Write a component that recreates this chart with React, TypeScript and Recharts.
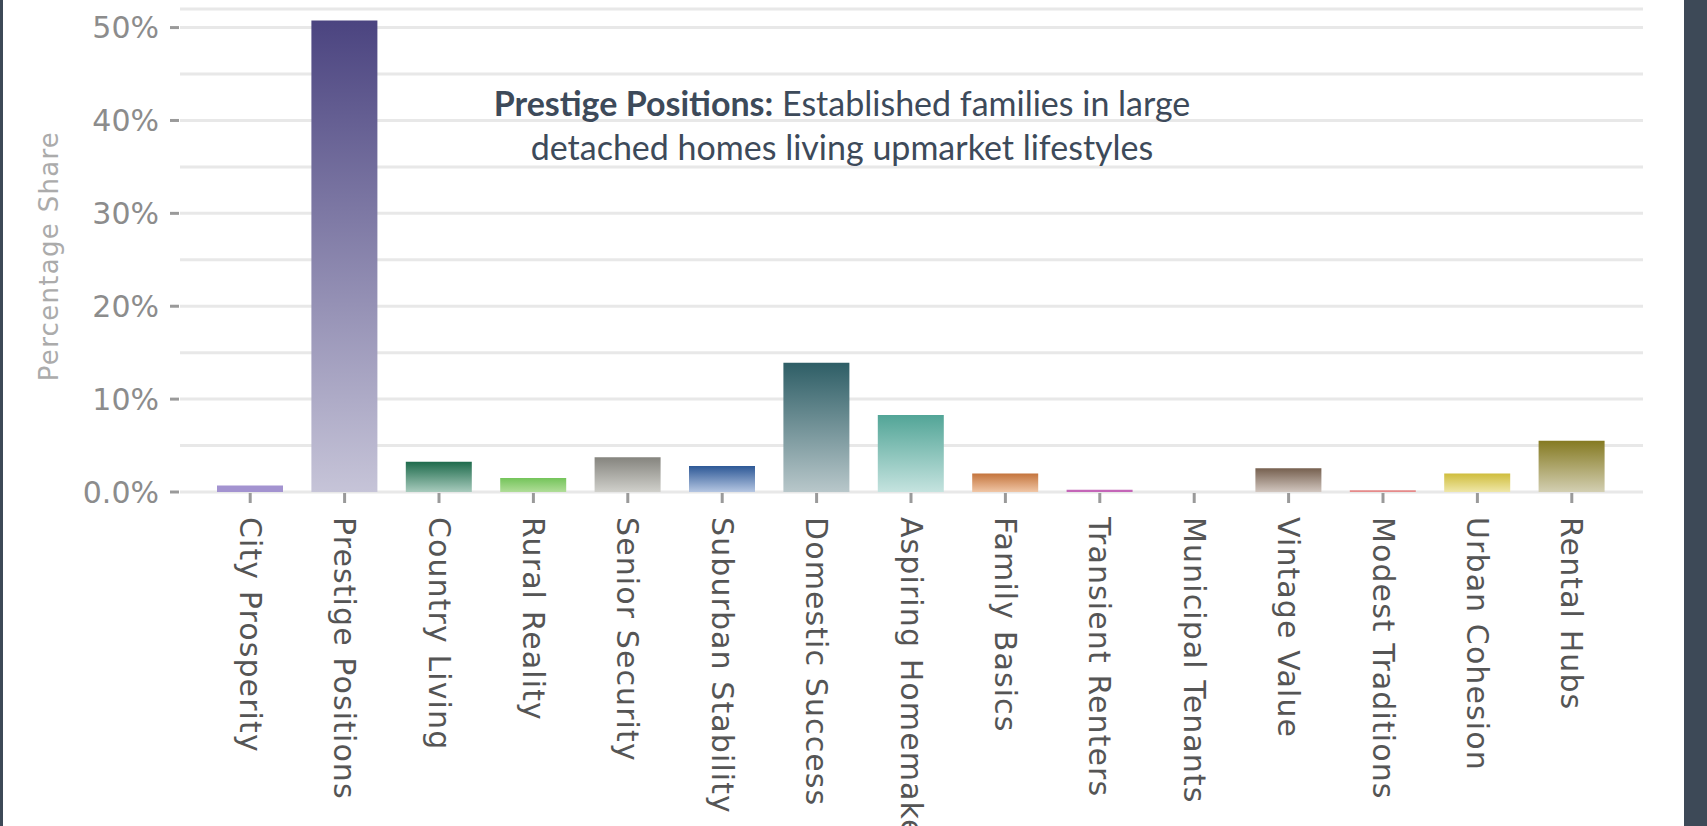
import React from 'react';
import { BarChart, Bar, XAxis, YAxis, CartesianGrid, Cell } from 'recharts';

const categories = [
  'City Prosperity', 'Prestige Positions', 'Country Living', 'Rural Reality', 'Senior Security',
  'Suburban Stability', 'Domestic Success', 'Aspiring Homemakers', 'Family Basics', 'Transient Renters',
  'Municipal Tenants', 'Vintage Value', 'Modest Traditions', 'Urban Cohesion', 'Rental Hubs',
];
const shares = [0.7, 50.75, 3.27, 1.52, 3.75, 2.81, 13.92, 8.29, 2.0, 0.25, 0, 2.55, 0.2, 2.0, 5.52];
const topColors = [
  '#a393d0', '#4b4480', '#1d6a4b', '#74c45a', '#85847e', '#2d5896', '#2e5e66', '#52a597',
  '#c4743c', '#c466b8', '#6aa99a', '#76604f', '#e68a8a', '#cfbd3c', '#857a22',
];
const bottomColors = [
  '#a393d0', '#c6c4d8', '#a8cbbd', '#b0dd98', '#d0d0cb', '#b5c6e2', '#b8c7ca', '#c5e3df',
  '#f0c6a6', '#c466b8', '#c5e3df', '#d2c7c0', '#e68a8a', '#efe7a8', '#d3cfb2',
];
const yTicks = [0, 5, 10, 15, 20, 25, 30, 35, 40, 45, 50];

const data = categories.map((name, i) => ({ name, share: shares[i] }));

const YTick = (props: any) => {
  const { x, y, payload } = props;
  const v = payload.value;
  if (v % 10 !== 0) return null;
  const label = v === 0 ? '0.0%' : `${v}%`;
  return (
    <g>
      <line x1={x - 10} x2={x - 1} y1={y} y2={y} stroke="#9a9a9a" strokeWidth={3} />
      <text x={x - 21} y={y} textAnchor="end" dominantBaseline="central"
        fontFamily="DejaVu Sans" fontSize={30} fill="#8c8c8c">{label}</text>
    </g>
  );
};

const XTick = (props: any) => {
  const { x, y, payload } = props;
  return (
    <g>
      <line x1={x} x2={x} y1={y + 1} y2={y + 11} stroke="#9a9a9a" strokeWidth={3} />
      <text x={x} y={y + 25} transform={`rotate(90 ${x} ${y + 25})`} textAnchor="start"
        dominantBaseline="central" fontFamily="DejaVu Sans" fontSize={30} letterSpacing={1.1}
        fill="#555">{payload.value}</text>
    </g>
  );
};

export default function App() {
  return (
    <div style={{ position: 'absolute', left: 0, top: 0, width: 1707, height: 826, background: '#fff', overflow: 'hidden' }}>
      <div style={{ position: 'absolute', left: 0, top: 0, width: 3, height: 826, background: '#3d4957' }} />
      <div style={{ position: 'absolute', left: 1684, top: 0, width: 23, height: 826, background: '#3d4957' }} />
      <BarChart width={1707} height={826} data={data}
        margin={{ top: 9, right: 64, bottom: 0, left: 0 }}>
        <defs>
          {categories.map((c, i) => (
            <linearGradient key={c} id={`g${i}`} x1="0" y1="0" x2="0" y2="1">
              <stop offset="0%" stopColor={topColors[i]} />
              <stop offset="100%" stopColor={bottomColors[i]} />
            </linearGradient>
          ))}
        </defs>
        <CartesianGrid vertical={false} stroke="#e8e8e8" strokeWidth={3} />
        <XAxis dataKey="name" interval={0} tick={<XTick />} tickLine={false} axisLine={false}
          tickSize={0} tickMargin={0} height={334} padding={{ left: 23, right: 24 }} />
        <YAxis type="number" domain={[0, 52]} ticks={yTicks} tick={<YTick />} tickLine={false}
          axisLine={false} tickSize={0} tickMargin={0} width={180} allowDataOverflow />
        <Bar dataKey="share" barSize={66} isAnimationActive={false}>
          {data.map((d, i) => (
            <Cell key={d.name} fill={`url(#g${i})`} />
          ))}
        </Bar>
      </BarChart>
      <div style={{ position: 'absolute', left: 49 - 150, top: 256 - 15, width: 300, height: 30, lineHeight: '30px',
        textAlign: 'center', transform: 'rotate(-90deg)', fontFamily: 'DejaVu Sans', fontSize: 26,
        letterSpacing: 1.3, color: '#ababab', whiteSpace: 'nowrap' }}>Percentage Share</div>
      <div style={{ position: 'absolute', left: 842 - 450, top: 81, width: 900, textAlign: 'center',
        fontFamily: 'Lato', fontSize: 34, lineHeight: '44px', color: '#3d4a5a' }}>
        <b>Prestige Positions:</b> Established families in large<br />detached homes living upmarket lifestyles
      </div>
    </div>
  );
}
